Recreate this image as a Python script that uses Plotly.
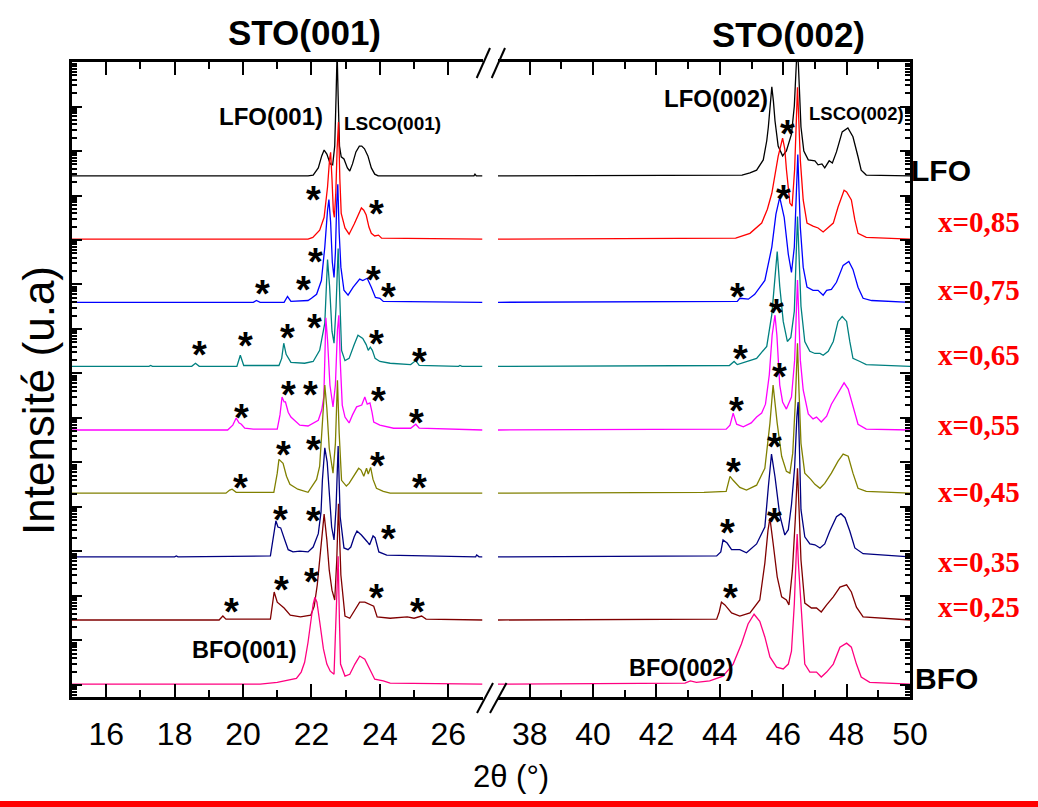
import plotly.graph_objects as go

# ---------------------------------------------------------------------------
# Stacked XRD scans (log10 of counts, background ~10 cps) for the
# La1-xBixFeO3 series on STO, read around the (001) and (002) reflections.
# Each list holds (2theta, log10 counts) pairs.
# ---------------------------------------------------------------------------
samples = ["LFO", "x=0,85", "x=0,75", "x=0,65", "x=0,55",
           "x=0,45", "x=0,35", "x=0,25", "BFO"]
colors = ["#000000", "#ff0000", "#0000ff", "#008080", "#ff00ff",
          "#808000", "#000080", "#800000", "#ff0080"]
# vertical stacking of each scan, in decades
stack_shift = [10.44, 9.02, 7.60, 6.16, 4.73, 3.31, 1.88, 0.46, -0.98]

lfo_001 = [(15.0, 1.00), (21.9, 1.00), (22.05, 1.02), (22.2, 1.18), (22.3, 1.45), (22.37, 1.58),
           (22.45, 1.49), (22.55, 1.27), (22.62, 1.25), (22.68, 1.67), (22.72, 2.80), (22.75, 3.81),
           (22.78, 2.80), (22.82, 1.67), (22.87, 1.43), (22.95, 1.38), (23.05, 1.18), (23.12, 1.11),
           (23.2, 1.27), (23.3, 1.54), (23.4, 1.67), (23.47, 1.67), (23.55, 1.61), (23.65, 1.45),
           (23.75, 1.18), (23.85, 1.04), (23.95, 1.00), (26.75, 1.00), (26.78, 1.04), (26.82, 1.00),
           (27.0, 1.00)]
x85_001 = [(15.0, 1.00), (21.9, 1.00), (22.04, 1.04), (22.24, 1.20), (22.37, 1.49), (22.47, 2.17),
           (22.53, 2.80), (22.56, 2.95), (22.6, 2.35), (22.64, 1.63), (22.67, 1.49), (22.71, 2.01),
           (22.75, 3.02), (22.79, 3.63), (22.83, 2.35), (22.87, 1.58), (22.98, 1.25), (23.1, 1.11),
           (23.25, 1.34), (23.38, 1.58), (23.46, 1.70), (23.53, 1.65), (23.6, 1.54), (23.68, 1.27),
           (23.75, 1.13), (23.85, 1.07), (23.96, 1.09), (24.05, 1.02), (27.0, 1.00)]
x75_001 = [(15.0, 1.00), (20.3, 1.00), (20.39, 1.04), (20.5, 1.00), (21.2, 1.00), (21.3, 1.13),
           (21.4, 1.02), (21.9, 1.04), (22.0, 1.09), (22.15, 1.18), (22.29, 1.49), (22.39, 2.24),
           (22.47, 3.07), (22.51, 3.31), (22.56, 2.80), (22.61, 1.90), (22.66, 1.56), (22.7, 2.12),
           (22.74, 3.25), (22.77, 3.65), (22.81, 2.57), (22.86, 1.79), (22.95, 1.27), (23.07, 1.16),
           (23.22, 1.34), (23.41, 1.52), (23.5, 1.49), (23.63, 1.54), (23.75, 1.34), (23.87, 1.11),
           (24.0, 1.09), (24.1, 1.02), (27.0, 1.00)]
x65_001 = [(15.0, 1.00), (17.25, 1.00), (17.3, 1.02), (17.35, 1.00), (18.5, 1.00), (18.61, 1.07),
           (18.72, 1.00), (19.82, 1.00), (19.92, 1.25), (20.02, 1.02), (21.05, 1.02), (21.13, 1.18),
           (21.19, 1.52), (21.26, 1.27), (21.4, 1.09), (21.8, 1.07), (22.05, 1.11), (22.24, 1.36),
           (22.39, 1.97), (22.47, 3.40), (22.53, 2.80), (22.6, 1.79), (22.66, 1.52), (22.72, 2.35),
           (22.78, 3.65), (22.83, 2.35), (22.88, 1.36), (22.98, 1.13), (23.1, 1.18), (23.25, 1.49),
           (23.36, 1.70), (23.5, 1.63), (23.6, 1.49), (23.66, 1.36), (23.72, 1.43), (23.78, 1.36),
           (23.86, 1.18), (24.0, 1.11), (24.3, 1.07), (24.9, 1.04), (25.05, 1.13), (25.15, 1.02),
           (26.3, 1.00), (26.34, 1.02), (26.4, 1.00), (27.0, 1.00)]
x55_001 = [(15.0, 1.00), (19.55, 1.00), (19.7, 1.11), (19.8, 1.27), (19.88, 1.16), (19.95, 1.13),
           (20.05, 1.04), (20.3, 1.02), (21.0, 1.02), (21.08, 1.34), (21.14, 1.74), (21.2, 1.63),
           (21.24, 1.63), (21.32, 1.40), (21.4, 1.29), (21.66, 1.11), (21.9, 1.09), (22.1, 1.18),
           (22.2, 1.22), (22.3, 1.45), (22.36, 1.74), (22.39, 2.57), (22.42, 3.52), (22.47, 3.02),
           (22.54, 2.01), (22.63, 1.52), (22.7, 2.01), (22.76, 3.25), (22.8, 3.58), (22.84, 2.57),
           (22.9, 1.56), (22.98, 1.29), (23.1, 1.16), (23.2, 1.34), (23.32, 1.52), (23.47, 1.56),
           (23.56, 1.74), (23.63, 1.58), (23.71, 1.61), (23.77, 1.40), (23.82, 1.18), (24.0, 1.11),
           (24.4, 1.04), (24.9, 1.04), (25.05, 1.13), (25.15, 1.04), (27.0, 1.00)]
x45_001 = [(15.0, 1.00), (19.5, 1.00), (19.61, 1.07), (19.68, 1.09), (19.8, 1.02), (20.9, 1.02),
           (21.0, 1.45), (21.05, 1.76), (21.17, 1.67), (21.27, 1.38), (21.37, 1.20), (21.6, 1.09),
           (21.9, 1.02), (22.05, 1.18), (22.15, 1.31), (22.24, 1.61), (22.32, 2.57), (22.39, 3.43),
           (22.45, 2.91), (22.52, 2.01), (22.63, 1.45), (22.7, 2.12), (22.76, 3.54), (22.81, 2.35),
           (22.88, 1.29), (23.02, 1.16), (23.1, 1.22), (23.25, 1.40), (23.38, 1.56), (23.45, 1.52),
           (23.53, 1.38), (23.61, 1.56), (23.66, 1.43), (23.73, 1.58), (23.8, 1.31), (23.9, 1.11),
           (24.1, 1.04), (24.3, 1.00), (27.0, 1.00)]
x35_001 = [(15.0, 1.00), (18.0, 1.00), (18.05, 1.02), (18.1, 1.00), (20.8, 1.02), (20.88, 1.45),
           (20.96, 1.81), (21.02, 1.67), (21.1, 1.65), (21.22, 1.38), (21.32, 1.16), (21.46, 1.11),
           (21.66, 1.13), (21.9, 1.11), (22.05, 1.22), (22.2, 1.52), (22.28, 2.01), (22.32, 2.73),
           (22.39, 3.45), (22.46, 3.13), (22.53, 2.35), (22.59, 1.67), (22.66, 1.38), (22.72, 2.12),
           (22.78, 3.49), (22.84, 1.90), (22.95, 1.20), (23.07, 1.16), (23.15, 1.22), (23.25, 1.45),
           (23.33, 1.58), (23.46, 1.49), (23.63, 1.34), (23.7, 1.27), (23.8, 1.47), (23.86, 1.43),
           (23.97, 1.11), (24.2, 1.04), (26.8, 1.00), (26.83, 1.04), (26.9, 1.00), (27.0, 1.00)]
x25_001 = [(15.0, 1.00), (19.3, 1.00), (19.41, 1.09), (19.5, 1.02), (20.8, 1.02), (20.85, 1.34),
           (20.91, 1.63), (21.0, 1.40), (21.1, 1.34), (21.2, 1.27), (21.38, 1.11), (21.68, 1.07),
           (21.98, 1.11), (22.08, 1.31), (22.17, 1.79), (22.27, 2.68), (22.37, 3.38), (22.45, 2.80),
           (22.52, 2.12), (22.6, 1.67), (22.68, 1.45), (22.74, 2.35), (22.79, 3.61), (22.86, 2.01),
           (22.98, 1.09), (23.12, 1.04), (23.27, 1.22), (23.41, 1.40), (23.56, 1.40), (23.68, 1.36),
           (23.75, 1.34), (23.82, 1.31), (23.92, 1.07), (24.3, 1.04), (24.8, 1.07), (25.0, 1.04),
           (25.22, 1.09), (25.35, 1.02), (27.0, 1.00)]
bfo_001 = [(15.0, 1.00), (20.5, 1.00), (21.0, 1.04), (21.3, 1.09), (21.56, 1.13), (21.7, 1.27),
           (21.8, 1.49), (21.9, 1.94), (21.97, 2.35), (22.05, 2.80), (22.1, 2.95), (22.16, 2.84),
           (22.25, 2.35), (22.35, 1.79), (22.45, 1.45), (22.55, 1.29), (22.66, 1.22), (22.72, 2.35),
           (22.78, 3.87), (22.82, 2.35), (22.85, 1.45), (22.98, 1.18), (23.12, 1.22), (23.27, 1.45),
           (23.41, 1.63), (23.56, 1.56), (23.71, 1.34), (23.85, 1.11), (24.1, 1.07), (24.3, 1.02),
           (27.0, 1.00)]

lfo_002 = [(37.0, 1.00), (44.7, 1.02), (44.95, 1.07), (45.16, 1.13), (45.37, 1.36), (45.48, 1.79),
           (45.53, 2.10), (45.6, 2.80), (45.64, 3.00), (45.69, 2.68), (45.74, 2.24), (45.84, 1.67),
           (45.98, 1.45), (46.1, 1.56), (46.26, 1.94), (46.35, 2.57), (46.41, 3.47), (46.44, 3.92),
           (46.48, 3.47), (46.52, 2.57), (46.56, 2.10), (46.65, 1.56), (46.79, 1.36), (47.0, 1.34),
           (47.1, 1.25), (47.22, 1.27), (47.31, 1.18), (47.45, 1.34), (47.55, 1.29), (47.68, 1.54),
           (47.86, 1.99), (48.04, 2.08), (48.2, 1.88), (48.36, 1.43), (48.46, 1.13), (48.62, 1.02),
           (50.0, 1.00)]
x85_002 = [(37.0, 1.00), (44.5, 1.02), (44.95, 1.13), (45.32, 1.36), (45.5, 1.67), (45.64, 2.03),
           (45.84, 2.86), (45.98, 3.27), (46.05, 3.02), (46.1, 2.57), (46.21, 1.81), (46.28, 1.74),
           (46.36, 2.57), (46.41, 3.70), (46.45, 4.41), (46.49, 3.70), (46.54, 2.77), (46.63, 1.88),
           (46.75, 1.36), (46.94, 1.29), (47.1, 1.25), (47.26, 1.16), (47.42, 1.25), (47.58, 1.36),
           (47.73, 1.72), (47.92, 2.10), (48.0, 2.06), (48.15, 1.88), (48.26, 1.43), (48.36, 1.13),
           (48.62, 1.04), (50.0, 1.00)]
x75_002 = [(37.0, 1.00), (44.0, 1.02), (44.55, 1.02), (44.63, 1.09), (44.9, 1.07), (45.1, 1.18),
           (45.42, 1.49), (45.64, 2.24), (45.77, 2.98), (45.89, 3.36), (46.03, 2.91), (46.16, 2.08),
           (46.26, 1.67), (46.35, 2.24), (46.41, 3.47), (46.46, 4.32), (46.5, 3.47), (46.54, 2.68),
           (46.63, 1.79), (46.75, 1.34), (46.94, 1.27), (47.1, 1.27), (47.26, 1.16), (47.37, 1.27),
           (47.52, 1.29), (47.68, 1.45), (47.89, 1.83), (48.07, 1.92), (48.2, 1.74), (48.36, 1.34),
           (48.52, 1.09), (48.79, 1.04), (50.0, 1.00)]
x65_002 = [(37.0, 1.00), (44.3, 1.02), (44.45, 1.11), (44.55, 1.04), (45.16, 1.18), (45.48, 1.45),
           (45.64, 2.17), (45.74, 2.91), (45.81, 3.58), (45.89, 2.80), (46.0, 2.01), (46.13, 1.56),
           (46.24, 1.65), (46.35, 2.24), (46.41, 3.47), (46.45, 4.37), (46.5, 3.47), (46.56, 2.35),
           (46.68, 1.56), (46.84, 1.34), (47.0, 1.29), (47.16, 1.29), (47.26, 1.25), (47.42, 1.34),
           (47.58, 1.56), (47.73, 2.01), (47.86, 2.12), (48.0, 2.01), (48.1, 1.56), (48.2, 1.18),
           (48.42, 1.11), (48.62, 1.04), (50.0, 1.00)]
x55_002 = [(37.0, 1.00), (44.2, 1.02), (44.32, 1.11), (44.42, 1.38), (44.53, 1.13), (44.74, 1.07),
           (44.99, 1.16), (45.16, 1.29), (45.32, 1.38), (45.44, 1.58), (45.56, 2.24), (45.65, 3.13),
           (45.74, 3.58), (45.8, 3.13), (45.89, 2.01), (45.98, 1.63), (46.1, 1.47), (46.26, 1.74),
           (46.36, 2.57), (46.41, 3.58), (46.45, 4.37), (46.49, 3.58), (46.54, 2.57), (46.63, 1.90),
           (46.79, 1.36), (46.94, 1.25), (47.05, 1.29), (47.2, 1.18), (47.37, 1.31), (47.52, 1.58),
           (47.73, 1.85), (47.92, 2.06), (48.05, 1.92), (48.2, 1.52), (48.36, 1.13), (48.62, 1.02),
           (50.0, 1.00)]
x45_002 = [(37.0, 1.00), (43.5, 1.02), (44.2, 1.04), (44.32, 1.38), (44.42, 1.29), (44.63, 1.13),
           (44.84, 1.07), (45.16, 1.18), (45.42, 1.56), (45.58, 2.57), (45.68, 3.43), (45.81, 2.57),
           (45.95, 1.83), (46.1, 1.49), (46.21, 1.45), (46.3, 1.90), (46.38, 3.02), (46.45, 4.37),
           (46.5, 3.25), (46.56, 2.12), (46.68, 1.45), (46.79, 1.38), (46.87, 1.31), (47.0, 1.20),
           (47.16, 1.11), (47.31, 1.22), (47.52, 1.45), (47.73, 1.72), (47.89, 1.88), (48.05, 1.83),
           (48.2, 1.45), (48.36, 1.11), (48.62, 1.04), (50.0, 1.00)]
x35_002 = [(37.0, 1.00), (43.9, 1.02), (44.03, 1.11), (44.1, 1.38), (44.23, 1.31), (44.37, 1.16),
           (44.63, 1.16), (44.84, 1.09), (45.16, 1.29), (45.42, 1.67), (45.53, 2.57), (45.63, 3.31),
           (45.74, 2.80), (45.89, 1.94), (46.05, 1.49), (46.16, 1.61), (46.26, 2.17), (46.36, 3.02),
           (46.43, 4.14), (46.47, 4.48), (46.51, 3.47), (46.56, 2.06), (46.68, 1.45), (46.84, 1.29),
           (47.0, 1.27), (47.16, 1.20), (47.31, 1.29), (47.47, 1.58), (47.68, 1.90), (47.82, 1.97),
           (47.95, 1.88), (48.1, 1.58), (48.26, 1.20), (48.52, 1.07), (50.0, 1.00)]
x25_002 = [(37.0, 1.00), (43.9, 1.02), (43.98, 1.18), (44.05, 1.40), (44.16, 1.34), (44.37, 1.16),
           (44.63, 1.09), (44.95, 1.16), (45.26, 1.45), (45.42, 2.28), (45.52, 3.02), (45.58, 3.29),
           (45.68, 2.73), (45.81, 1.97), (45.95, 1.52), (46.1, 1.45), (46.18, 1.34), (46.29, 2.12),
           (46.38, 3.25), (46.45, 4.41), (46.5, 3.47), (46.56, 2.35), (46.68, 1.38), (46.89, 1.27),
           (47.05, 1.27), (47.2, 1.18), (47.37, 1.34), (47.58, 1.52), (47.79, 1.74), (48.0, 1.79),
           (48.15, 1.63), (48.31, 1.29), (48.52, 1.07), (50.0, 1.00)]
bfo_002 = [(37.0, 1.00), (42.9, 1.02), (43.07, 1.07), (43.26, 1.04), (43.68, 1.07), (44.1, 1.18),
           (44.42, 1.45), (44.68, 1.90), (44.89, 2.35), (45.08, 2.57), (45.26, 2.41), (45.42, 2.06),
           (45.58, 1.61), (45.79, 1.38), (46.0, 1.34), (46.16, 1.45), (46.26, 1.74), (46.35, 2.80),
           (46.41, 3.92), (46.44, 4.37), (46.48, 3.70), (46.52, 3.25), (46.6, 2.35), (46.68, 1.45),
           (46.84, 1.27), (47.05, 1.27), (47.2, 1.16), (47.37, 1.27), (47.58, 1.45), (47.79, 1.83),
           (48.0, 1.92), (48.15, 1.83), (48.31, 1.45), (48.46, 1.16), (48.73, 1.04), (50.0, 1.00)]

scans_001 = [lfo_001, x85_001, x75_001, x65_001, x55_001, x45_001, x35_001, x25_001, bfo_001]
scans_002 = [lfo_002, x85_002, x75_002, x65_002, x55_002, x45_002, x35_002, x25_002, bfo_002]

# ---------------------------------------------------------------------------
# Layout geometry (pixels) and helpers to place text in paper coordinates
# ---------------------------------------------------------------------------
W, H = 1038, 807
ML, MR, MT, MB = 72, 128, 62, 110
PW, PH = W - ML - MR, H - MT - MB


def fx(x):
    return (x - ML) / PW


def fy(y):
    return (H - MB - y) / PH


SANS = "Liberation Sans, Arial, sans-serif"
SERIF = "Liberation Serif, Times New Roman, serif"

fig = go.Figure()
for name, col, shift, s1, s2 in zip(samples, colors, stack_shift, scans_001, scans_002):
    fig.add_trace(go.Scatter(
        x=[p[0] for p in s1], y=[10 ** (p[1] + shift) for p in s1],
        mode="lines", line=dict(color=col, width=1.3), name=name,
        xaxis="x", yaxis="y", showlegend=False, hoverinfo="skip"))
    fig.add_trace(go.Scatter(
        x=[p[0] for p in s2], y=[10 ** (p[1] + shift) for p in s2],
        mode="lines", line=dict(color=col, width=1.3), name=name,
        xaxis="x2", yaxis="y2", showlegend=False, hoverinfo="skip"))

# log ticks: decades plus 2..9 minors
y_major = [10.0 ** k for k in range(0, 15)]
y_minor = [m * 10.0 ** k for k in range(-1, 14) for m in range(2, 10)]
y_range = [-0.27, 14.0]

xaxis_common = dict(
    tickmode="linear", dtick=2, ticks="inside", ticklen=13, tickwidth=2,
    tickcolor="black", showline=True, linewidth=3, linecolor="black",
    mirror="allticks", showgrid=False, zeroline=False,
    tickfont=dict(family=SANS, size=32, color="black"),
    ticklabelstandoff=7,
    minor=dict(dtick=1, ticks="inside", ticklen=7, tickwidth=2,
               tickcolor="black", showgrid=False),
)
yaxis_common = dict(
    type="log", range=y_range, tickmode="array", tickvals=y_major,
    ticks="inside", ticklen=10, tickwidth=2, tickcolor="black",
    showticklabels=False, showline=True, linewidth=3, linecolor="black",
    showgrid=False, zeroline=False,
    minor=dict(tickmode="array", tickvals=y_minor, ticks="inside", ticklen=5,
               tickwidth=1.5, tickcolor="black", showgrid=False),
)

fig.update_layout(
    width=W, height=H,
    margin=dict(l=ML, r=MR, t=MT, b=MB),
    paper_bgcolor="white", plot_bgcolor="white",
    showlegend=False,
    xaxis=dict(domain=[0, fx(482.5)], range=[15, 27], tick0=16,
               anchor="y", **xaxis_common),
    xaxis2=dict(domain=[fx(498), 1], range=[37, 50], tick0=38,
                anchor="y2", **xaxis_common),
    yaxis=dict(anchor="x", side="left", **yaxis_common),
    yaxis2=dict(anchor="x2", side="right", overlaying="y", **yaxis_common),
)

# ---------------------------------------------------------------------------
# Text labels
# ---------------------------------------------------------------------------
ann = []


def label(txt, x, y, size, family=SANS, color="black", bold=True, **kw):
    t = f"<b>{txt}</b>" if bold else txt
    ann.append(dict(text=t, x=fx(x), y=fy(y), xref="paper", yref="paper",
                    xanchor="center", yanchor="middle", showarrow=False,
                    font=dict(family=family, size=size, color=color), **kw))


label("STO(001)", 304, 32, 35)
label("STO(002)", 788, 35, 35)
label("LFO(001)", 271, 117, 24)
label("LSCO(001)", 392, 123, 19)
label("LFO(002)", 716, 98, 24)
label("LSCO(002)", 856, 113, 18.5)
label("BFO(001)", 244, 650, 23.5)
label("BFO(002)", 681, 668, 23.5)
label("LFO", 941, 170, 30)
label("BFO", 946, 678, 30)

comp_labels = samples[1:-1]
comp_label_y = [222, 290, 355, 425, 492, 562, 607]
for txt, yy in zip(comp_labels, comp_label_y):
    label(txt, 979, yy, 29, family=SERIF, color="#ff0000")

label("Intensité (u.a)", 38, 401, 44, bold=False, textangle=-90)
label("2θ (°)", 511, 776, 31, bold=False)

# peak markers (impurity reflections)
star_xy = [(313, 190), (376, 204),
           (315, 252), (262, 284), (303, 280), (373, 270), (388, 287),
           (199, 345), (245, 336), (287, 328), (314, 318), (376, 334), (419, 352),
           (288, 385), (310, 385), (378, 391), (241, 408), (416, 413),
           (283, 445), (313, 440), (377, 456), (240, 478), (419, 478),
           (280, 510), (313, 511), (388, 529),
           (281, 580), (311, 572), (376, 588), (231, 602), (417, 602),
           (787, 124), (783, 189), (737, 287), (776, 303), (740, 349), (779, 367),
           (736, 401), (774, 437), (733, 462), (727, 523), (774, 512), (730, 588)]
for sx, sy in star_xy:
    label("*", sx, sy, 38, yshift=-10)

fig.update_layout(annotations=ann)

# ---------------------------------------------------------------------------
# Axis-break marks and the bottom rule
# ---------------------------------------------------------------------------
shapes = []
for (x0, y0, x1, y1) in [(476.7, 78, 490, 48), (491.7, 78, 505, 48),
                         (477, 713, 493, 683), (490, 713, 506.5, 683)]:
    shapes.append(dict(type="line", xref="paper", yref="paper",
                       x0=fx(x0), y0=fy(y0), x1=fx(x1), y1=fy(y1),
                       line=dict(color="black", width=2)))
shapes.append(dict(type="rect", xref="paper", yref="paper",
                   x0=fx(0), x1=fx(W), y0=fy(807), y1=fy(801),
                   fillcolor="#ff0000", line=dict(width=0)))
fig.update_layout(shapes=shapes)

fig.write_html("out.html")
